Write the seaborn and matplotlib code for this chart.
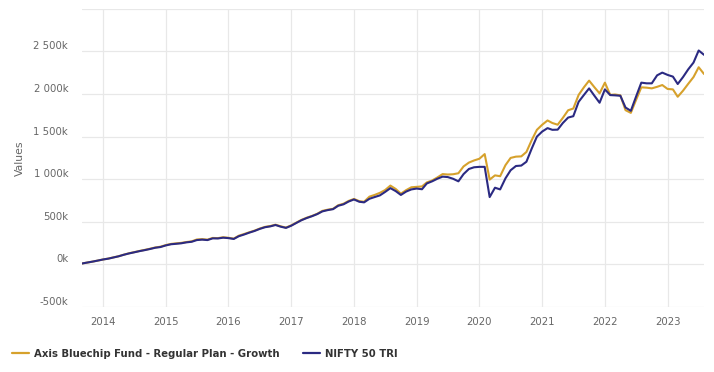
import matplotlib.pyplot as plt
import matplotlib.dates as mdates
from matplotlib.lines import Line2D
import pandas as pd
import seaborn as sns

# monthly values, in thousands, Sep 2013 .. Aug 2023
start_month = "2013-09-01"
fund_name = "Axis Bluechip Fund - Regular Plan - Growth"
index_name = "NIFTY 50 TRI"

fund_values = [
    10, 21, 32, 44,
    57, 68, 81, 95, 113, 130, 143, 157, 170, 183, 198, 207,
    226, 240, 246, 252, 262, 270, 292, 296, 290, 310, 308, 318,
    312, 302, 336, 356, 376, 396, 420, 440, 450, 466, 446, 432,
    458, 492, 522, 548, 568, 594, 628, 642, 652, 694, 712, 745,
    768, 742, 735, 795, 815, 840, 872, 925, 885, 830, 872, 905,
    910, 915, 962, 985, 1020, 1060, 1055, 1058, 1070, 1150, 1195, 1220,
    1240, 1295, 995, 1045, 1035, 1165, 1250, 1265, 1268, 1320, 1460, 1580,
    1640, 1690, 1660, 1640, 1720, 1810, 1830, 1990, 2080, 2158, 2080, 2008,
    2134, 1990, 1995, 1985, 1811, 1779, 1929, 2079, 2075, 2067, 2085, 2106,
    2060, 2055, 1968, 2040, 2120, 2200, 2315, 2236,
]
index_values = [
    10, 21, 32, 44,
    57, 67, 80, 94, 112, 128, 141, 155, 167, 180, 195, 203,
    222, 236, 241, 247, 258, 265, 285, 290, 285, 305, 304, 313,
    308, 298, 330, 350, 372, 392, 416, 436, 446, 462, 442, 428,
    454, 488, 518, 544, 565, 590, 622, 637, 648, 688, 705, 738,
    762, 735, 728, 770, 790, 810, 850, 895, 860, 815, 855, 880,
    890, 882, 950, 975, 1005, 1030, 1025, 1005, 975, 1060, 1120, 1140,
    1145, 1145, 790, 900, 880, 1010, 1105, 1155, 1160, 1205, 1360, 1500,
    1560, 1600, 1580, 1582, 1660, 1724, 1740, 1909, 1990, 2067, 1980, 1898,
    2055, 1988, 1985, 1980, 1842, 1803, 1968, 2134, 2126, 2126, 2220, 2252,
    2225, 2205, 2118, 2200, 2290, 2370, 2512, 2461,
]
y_ticks = [-500, 0, 500, 1000, 1500, 2000, 2500, 3000]
y_labels = ["-500k", "0k", "500k", "1 000k", "1 500k", "2 000k", "2 500k", ""]

colors = {fund_name: "#d6a12c", index_name: "#2b2a82"}

dates = pd.date_range(start_month, periods=len(fund_values), freq="MS")
df = pd.concat([
    pd.DataFrame({"Date": dates, "Value": fund_values, "Series": fund_name}),
    pd.DataFrame({"Date": dates, "Value": index_values, "Series": index_name}),
])

sns.set_style("white")
plt.rcParams["font.family"] = ["DejaVu Sans"]

fig, ax = plt.subplots(figsize=(7.14, 3.72), dpi=100)
fig.subplots_adjust(left=0.115, right=0.986, top=0.976, bottom=0.175)

sns.lineplot(data=df, x="Date", y="Value", hue="Series", palette=colors,
             linewidth=1.5, legend=False, ax=ax)

ax.set_xlim(dates[0], dates[-1])
ax.set_ylim(-500, 3000)
ax.set_yticks(y_ticks, labels=y_labels, va="bottom")
ax.xaxis.set_major_locator(mdates.YearLocator())
ax.xaxis.set_major_formatter(mdates.DateFormatter("%Y"))

ax.grid(True, color="#e8e8e8", linewidth=0.9)
ax.set_axisbelow(True)
for s in ax.spines.values():
    s.set_visible(False)
ax.tick_params(axis="both", length=0, labelsize=7.3, labelcolor="#666666")
ax.tick_params(axis="x", pad=7)
ax.tick_params(axis="y", pad=10)

ax.set_xlabel("")
ax.set_ylabel("Values", fontsize=7.8, color="#666666", labelpad=6)

handles = [Line2D([], [], color=colors[n], linewidth=1.6) for n in colors]
fig.legend(handles, list(colors), loc="center left",
           bbox_to_anchor=(0.004, 1 - 354 / 372), ncol=2, frameon=False,
           handlelength=1.7, handletextpad=0.5, columnspacing=2.3,
           prop={"size": 7.25, "weight": "bold"}, labelcolor="#333333")

fig.savefig("out.png", dpi=100)
